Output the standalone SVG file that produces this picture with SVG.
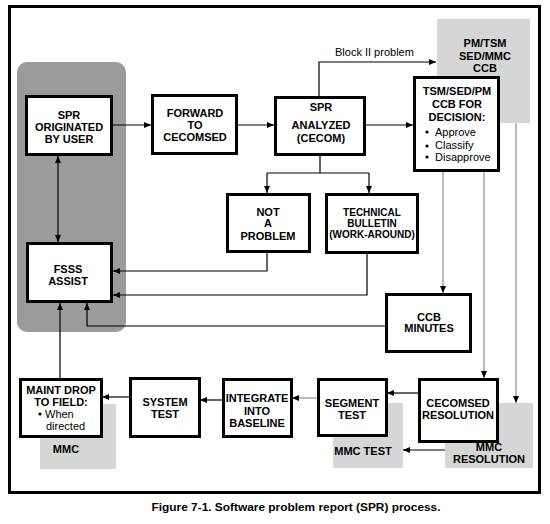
<svg xmlns="http://www.w3.org/2000/svg" width="550" height="524" viewBox="0 0 550 524">
<style>
  .box { fill: #ffffff; stroke: #000; stroke-width: 3; }
  .lg { fill: #d6d6d6; stroke: none; }
  .t { font-family: "Liberation Sans", Arial, sans-serif; font-size: 11px; font-weight: bold; text-anchor: middle; fill: #000; }
  .r { font-family: "Liberation Sans", Arial, sans-serif; font-size: 11px; fill: #000; }
  .c { fill: none; stroke: #000; stroke-width: 1.2; }
  .g { fill: none; stroke: #777; stroke-width: 1; }
</style>
<defs>
  <marker id="ah" markerUnits="userSpaceOnUse" markerWidth="8" markerHeight="8" refX="7" refY="4" orient="auto">
    <path d="M0,1 L7,4 L0,7 Z" fill="#000"/>
  </marker>
  <marker id="as" markerUnits="userSpaceOnUse" markerWidth="8" markerHeight="8" refX="0" refY="4" orient="auto">
    <path d="M7,1 L0,4 L7,7 Z" fill="#000"/>
  </marker>
</defs>
<rect width="550" height="524" fill="#fff"/>
<!-- frame -->
<rect x="9.5" y="6.5" width="530" height="486" fill="none" stroke="#000" stroke-width="3"/>
<!-- backgrounds -->
<rect x="17" y="62" width="109" height="270" rx="10" fill="#9b9b9b"/>
<rect class="lg" x="437" y="19" width="93" height="104"/>
<rect class="lg" x="40" y="404" width="76" height="65"/>
<rect class="lg" x="333" y="403" width="70" height="65"/>
<rect class="lg" x="445" y="403" width="88" height="65"/>
<g id="gray-labels">
  <text class="t" x="485" y="47">PM/TSM</text>
  <text class="t" x="485" y="60">SED/MMC</text>
  <text class="t" x="485" y="72">CCB</text>
  <text class="t" x="66" y="453">MMC</text>
  <text class="t" x="363" y="455">MMC TEST</text>
  <text class="t" x="489" y="451">MMC</text>
  <text class="t" x="489" y="463">RESOLUTION</text>
</g>
<g id="connectors">
  <path class="c" d="M112,125 H151" marker-end="url(#ah)"/>
  <path class="c" d="M237,125 H274" marker-end="url(#ah)"/>
  <path class="c" d="M366,125 H413" marker-end="url(#ah)"/>
  <path class="c" d="M319,96 V62 H436" marker-end="url(#ah)"/>
  <text class="r" x="335" y="56">Block II problem</text>
  <path class="c" d="M320,155 V173"/>
  <path class="c" d="M267,173 H369"/>
  <path class="c" d="M267,173 V193" marker-end="url(#ah)"/>
  <path class="c" d="M369,173 V193" marker-end="url(#ah)"/>
  <path class="c" d="M267,252 V271 H113" marker-end="url(#ah)"/>
  <path class="c" d="M367,253 V295 H113" marker-end="url(#ah)"/>
  <path class="c" d="M385,326 H87 V303" marker-end="url(#ah)"/>
  <path class="g" d="M443,171 V293" marker-end="url(#ah)"/>
  <path class="g" d="M484,171 V378" marker-end="url(#ah)"/>
  <path class="g" d="M516,123 V403" marker-end="url(#ah)"/>
  <path class="c" d="M418,393 H387" marker-end="url(#ah)"/>
  <path class="g" d="M317,398 H292" marker-end="url(#ah)"/>
  <path class="c" d="M222,400 H200" marker-end="url(#ah)"/>
  <path class="c" d="M129,397 H102" marker-end="url(#ah)"/>
  <path class="c" d="M60,378 V303" marker-end="url(#ah)"/>
  <path class="c" d="M58,156 V242" marker-start="url(#as)" marker-end="url(#ah)"/>
  <path class="c" d="M445,450 H403" marker-end="url(#ah)"/>
</g>
<g id="spr-originated">
  <rect class="box" x="26.5" y="96.5" width="85" height="58"/>
  <text class="t" x="69" y="119">SPR</text>
  <text class="t" x="69" y="131">ORIGINATED</text>
  <text class="t" x="69" y="143">BY USER</text>
</g>
<g id="forward">
  <rect class="box" x="152.5" y="95.5" width="84" height="58"/>
  <text class="t" x="195" y="117">FORWARD</text>
  <text class="t" x="195" y="129">TO</text>
  <text class="t" x="195" y="141">CECOMSED</text>
</g>
<g id="spr-analyzed">
  <rect class="box" x="275.5" y="97.5" width="89" height="57"/>
  <text class="t" x="321" y="111">SPR</text>
  <text class="t" x="321" y="129">ANALYZED</text>
  <text class="t" x="321" y="142">(CECOM)</text>
</g>
<g id="tsm-decision">
  <rect class="box" x="414.5" y="77.5" width="84" height="93"/>
  <text class="t" x="457" y="95">TSM/SED/PM</text>
  <text class="t" x="457" y="108">CCB FOR</text>
  <text class="t" x="457" y="121">DECISION:</text>
  <circle cx="427" cy="132" r="1.6"/>
  <circle cx="427" cy="146" r="1.6"/>
  <circle cx="427" cy="157" r="1.6"/>
  <text class="r" x="435" y="136">Approve</text>
  <text class="r" x="435" y="149">Classify</text>
  <text class="r" x="435" y="161">Disapprove</text>
</g>
<g id="not-a-problem">
  <rect class="box" x="227.5" y="194.5" width="82" height="57"/>
  <text class="t" x="268" y="216">NOT</text>
  <text class="t" x="268" y="227">A</text>
  <text class="t" x="268" y="240">PROBLEM</text>
</g>
<g id="technical-bulletin">
  <rect class="box" x="326.5" y="194.5" width="91" height="58"/>
  <text class="t" x="372" y="216" style="font-size:10px">TECHNICAL</text>
  <text class="t" x="372" y="227" style="font-size:10px">BULLETIN</text>
  <text class="t" x="372" y="238" style="font-size:10px">(WORK-AROUND)</text>
</g>
<g id="fsss-assist">
  <rect class="box" x="27.5" y="243.5" width="84" height="58"/>
  <text class="t" x="68" y="273">FSSS</text>
  <text class="t" x="68" y="285">ASSIST</text>
</g>
<g id="ccb-minutes">
  <rect class="box" x="386.5" y="294.5" width="84" height="57"/>
  <text class="t" x="429" y="321">CCB</text>
  <text class="t" x="429" y="332">MINUTES</text>
</g>
<g id="maint-drop">
  <rect class="box" x="20.5" y="379.5" width="81" height="57"/>
  <text class="t" x="61" y="394">MAINT DROP</text>
  <text class="t" x="61" y="406">TO FIELD:</text>
  <circle cx="40" cy="414" r="1.6"/>
  <text class="r" x="45" y="418">When</text>
  <text class="r" x="46" y="430">directed</text>
</g>
<g id="system-test">
  <rect class="box" x="130.5" y="378.5" width="69" height="58"/>
  <text class="t" x="165" y="406">SYSTEM</text>
  <text class="t" x="165" y="418">TEST</text>
</g>
<g id="integrate">
  <rect class="box" x="223.5" y="379.5" width="68" height="57"/>
  <text class="t" x="257" y="402">INTEGRATE</text>
  <text class="t" x="257" y="415">INTO</text>
  <text class="t" x="257" y="427">BASELINE</text>
</g>
<g id="segment-test">
  <rect class="box" x="318.5" y="379.5" width="68" height="56"/>
  <text class="t" x="352" y="407">SEGMENT</text>
  <text class="t" x="352" y="419">TEST</text>
</g>
<g id="cecomsed-resolution">
  <rect class="box" x="419.5" y="379.5" width="78" height="62"/>
  <text class="t" x="458" y="407">CECOMSED</text>
  <text class="t" x="458" y="419">RESOLUTION</text>
</g>
<text class="t" x="296" y="511" style="font-size:10.5px" textLength="289" lengthAdjust="spacingAndGlyphs">Figure 7-1. Software problem report (SPR) process.</text>
</svg>
